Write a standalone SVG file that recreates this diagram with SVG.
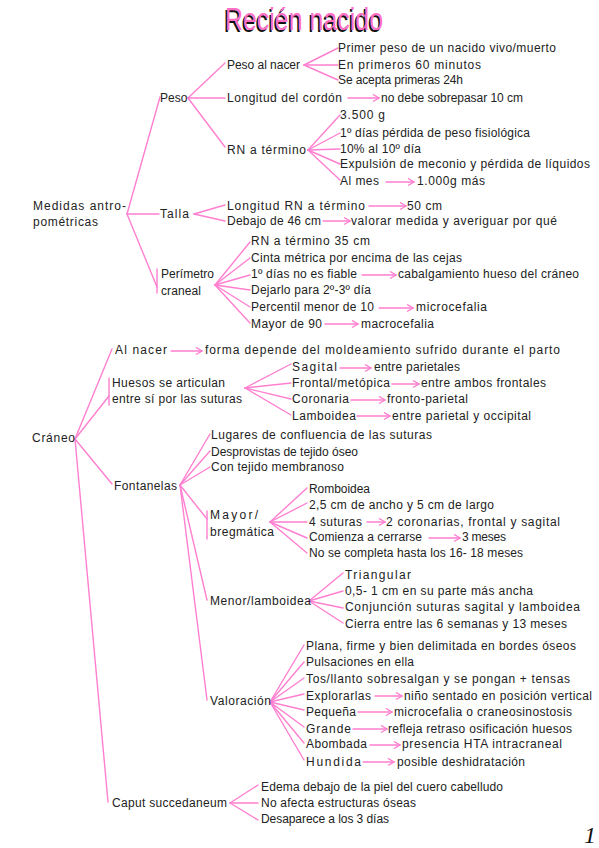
<svg xmlns="http://www.w3.org/2000/svg" width="599" height="848" viewBox="0 0 599 848">
<style>
  .t { font-family: "Liberation Sans", "DejaVu Sans", sans-serif; font-size: 12px; fill: #222; }
  .c line { stroke: #ff7fd0; stroke-width: 1.4; fill: none; stroke-linecap: round; }
  .c .ar { marker-end: url(#ah); }
  .title { font-family: "Liberation Sans", "DejaVu Sans", sans-serif; font-size: 31px; }
  .num { font-family: "Liberation Serif", serif; font-size: 24px; fill: #111; }
</style>
<defs>
  <marker id="ah" markerUnits="userSpaceOnUse" markerWidth="10" markerHeight="10" refX="7" refY="4" orient="auto">
    <path d="M1,0.5 L7,4 L1,7.5" stroke="#ff7fd0" stroke-width="1.4" fill="none"/>
  </marker>
</defs>
<rect width="599" height="848" fill="#fff"/>

<g id="title">
  <text class="title" x="223.5" y="31.5" fill="#111" textLength="158" lengthAdjust="spacingAndGlyphs">Recién nacido</text>
  <text class="title" x="225" y="30" fill="#ff6ec7" textLength="158" lengthAdjust="spacingAndGlyphs">Recién nacido</text>
</g>

<g class="c" id="connectors">
  <!-- Medidas -->
  <line x1="127" y1="214" x2="160" y2="97"/>
  <line x1="127" y1="214" x2="159" y2="214"/>
  <line x1="127" y1="214" x2="157" y2="287"/>
  <line x1="157" y1="269" x2="157" y2="293"/>
  <!-- Peso -->
  <line x1="188" y1="98" x2="225" y2="63"/>
  <line x1="188" y1="98" x2="225" y2="98"/>
  <line x1="188" y1="98" x2="225" y2="147"/>
  <line x1="304" y1="65" x2="338" y2="48"/>
  <line x1="304" y1="65" x2="338" y2="65"/>
  <line x1="304" y1="65" x2="338" y2="80"/>
  <line class="ar" x1="348" y1="98" x2="379" y2="98"/>
  <line x1="308" y1="150" x2="340" y2="115"/>
  <line x1="308" y1="150" x2="340" y2="133"/>
  <line x1="308" y1="150" x2="340" y2="149"/>
  <line x1="308" y1="150" x2="340" y2="164"/>
  <line x1="308" y1="150" x2="340" y2="180"/>
  <line class="ar" x1="386" y1="182" x2="414" y2="182"/>
  <!-- Talla -->
  <line x1="194" y1="214" x2="225" y2="205"/>
  <line x1="194" y1="214" x2="225" y2="221"/>
  <line class="ar" x1="369" y1="206" x2="406" y2="206"/>
  <line class="ar" x1="323" y1="221" x2="350" y2="221"/>
  <!-- Perimetro -->
  <line x1="215" y1="285" x2="250" y2="242"/>
  <line x1="215" y1="285" x2="250" y2="258"/>
  <line x1="215" y1="285" x2="250" y2="275"/>
  <line x1="215" y1="285" x2="250" y2="290"/>
  <line x1="215" y1="285" x2="250" y2="307"/>
  <line x1="215" y1="285" x2="250" y2="323"/>
  <line class="ar" x1="362" y1="275" x2="396" y2="275"/>
  <line class="ar" x1="379" y1="308" x2="413" y2="308"/>
  <line class="ar" x1="325" y1="324" x2="358" y2="324"/>
  <!-- Craneo -->
  <line x1="75" y1="439" x2="112" y2="349"/>
  <line x1="75" y1="439" x2="109" y2="396"/>
  <line x1="109" y1="378" x2="109" y2="405"/>
  <line x1="75" y1="439" x2="112" y2="484"/>
  <line x1="75" y1="439" x2="108" y2="802"/>
  <line class="ar" x1="171" y1="351" x2="202" y2="351"/>
  <!-- Huesos -->
  <line x1="245" y1="388" x2="291" y2="364"/>
  <line x1="245" y1="388" x2="291" y2="383"/>
  <line x1="245" y1="388" x2="291" y2="399"/>
  <line x1="245" y1="388" x2="291" y2="415"/>
  <line class="ar" x1="340" y1="368" x2="371" y2="368"/>
  <line class="ar" x1="392" y1="384" x2="419" y2="384"/>
  <line class="ar" x1="351" y1="400" x2="385" y2="400"/>
  <line class="ar" x1="357" y1="416" x2="390" y2="416"/>
  <!-- Fontanelas -->
  <line x1="180" y1="485" x2="210" y2="434"/>
  <line x1="180" y1="485" x2="210" y2="451"/>
  <line x1="180" y1="485" x2="210" y2="467"/>
  <line x1="180" y1="485" x2="207" y2="519"/>
  <line x1="207" y1="511" x2="207" y2="539"/>
  <line x1="180" y1="485" x2="207" y2="600"/>
  <line x1="180" y1="485" x2="207" y2="700"/>
  <!-- Mayor -->
  <line x1="270" y1="522" x2="307" y2="488"/>
  <line x1="270" y1="522" x2="307" y2="503"/>
  <line x1="270" y1="522" x2="307" y2="522"/>
  <line x1="270" y1="522" x2="307" y2="538"/>
  <line x1="270" y1="522" x2="307" y2="553"/>
  <line class="ar" x1="367" y1="522" x2="385" y2="522"/>
  <line class="ar" x1="429" y1="538" x2="460" y2="538"/>
  <!-- Menor -->
  <line x1="309" y1="601" x2="343" y2="573"/>
  <line x1="309" y1="601" x2="343" y2="591"/>
  <line x1="309" y1="601" x2="343" y2="608"/>
  <line x1="309" y1="601" x2="343" y2="623"/>
  <!-- Valoracion -->
  <line x1="270" y1="702" x2="304" y2="645"/>
  <line x1="270" y1="702" x2="304" y2="662"/>
  <line x1="270" y1="702" x2="304" y2="678"/>
  <line x1="270" y1="702" x2="304" y2="694"/>
  <line x1="270" y1="702" x2="304" y2="710"/>
  <line x1="270" y1="702" x2="304" y2="727"/>
  <line x1="270" y1="702" x2="304" y2="743"/>
  <line x1="270" y1="702" x2="304" y2="760"/>
  <line class="ar" x1="375" y1="696" x2="402" y2="696"/>
  <line class="ar" x1="358" y1="712" x2="392" y2="712"/>
  <line class="ar" x1="353" y1="729" x2="387" y2="729"/>
  <line class="ar" x1="370" y1="745" x2="400" y2="745"/>
  <line class="ar" x1="363" y1="762" x2="394" y2="762"/>
  <!-- Caput -->
  <line x1="230" y1="803" x2="258" y2="785"/>
  <line x1="230" y1="803" x2="258" y2="803"/>
  <line x1="230" y1="803" x2="258" y2="820"/>
</g>

<g id="medidas"><text class="t" x="33" y="210" textLength="93" lengthAdjust="spacing">Medidas antro-</text><text class="t" x="33" y="226" textLength="65" lengthAdjust="spacing">pométricas</text></g>
<g id="peso"><text class="t" x="160" y="102">Peso</text></g>
<g id="peso-al-nacer"><text class="t" x="227" y="69" textLength="73" lengthAdjust="spacing">Peso al nacer</text></g>
<g id="pan-1"><text class="t" x="338" y="52" textLength="218" lengthAdjust="spacing">Primer peso de un nacido vivo/muerto</text></g>
<g id="pan-2"><text class="t" x="338" y="69" textLength="143" lengthAdjust="spacing">En primeros 60 minutos</text></g>
<g id="pan-3"><text class="t" x="338" y="84" textLength="125" lengthAdjust="spacing">Se acepta primeras 24h</text></g>
<g id="longitud-cordon"><text class="t" x="227" y="102" textLength="115" lengthAdjust="spacing">Longitud del cordón</text></g>
<g id="cordon-val"><text class="t" x="381" y="102" textLength="142" lengthAdjust="spacing">no debe sobrepasar 10 cm</text></g>
<g id="rn-termino"><text class="t" x="227" y="154" textLength="79" lengthAdjust="spacing">RN a término</text></g>
<g id="rn-1"><text class="t" x="340" y="119" textLength="45" lengthAdjust="spacing">3.500 g</text></g>
<g id="rn-2"><text class="t" x="340" y="137" textLength="190" lengthAdjust="spacing">1º días pérdida de peso fisiológica</text></g>
<g id="rn-3"><text class="t" x="340" y="153" textLength="81" lengthAdjust="spacing">10% al 10º día</text></g>
<g id="rn-4"><text class="t" x="340" y="168" textLength="250" lengthAdjust="spacing">Expulsión de meconio y pérdida de líquidos</text></g>
<g id="rn-5"><text class="t" x="340" y="185" textLength="39" lengthAdjust="spacing">Al mes</text></g>
<g id="rn-5b"><text class="t" x="417" y="185" textLength="68" lengthAdjust="spacing">1.000g más</text></g>
<g id="talla"><text class="t" x="160" y="218" textLength="29" lengthAdjust="spacing">Talla</text></g>
<g id="talla-1"><text class="t" x="227" y="210" textLength="138" lengthAdjust="spacing">Longitud RN a término</text></g>
<g id="talla-1b"><text class="t" x="407" y="210" textLength="35" lengthAdjust="spacing">50 cm</text></g>
<g id="talla-2"><text class="t" x="227" y="225" textLength="94" lengthAdjust="spacing">Debajo de 46 cm</text></g>
<g id="talla-2b"><text class="t" x="351" y="225" textLength="206" lengthAdjust="spacing">valorar medida y averiguar por qué</text></g>
<g id="perimetro"><text class="t" x="161" y="278" textLength="53" lengthAdjust="spacing">Perímetro</text><text class="t" x="161" y="295" textLength="40" lengthAdjust="spacing">craneal</text></g>
<g id="per-1"><text class="t" x="251" y="245" textLength="119" lengthAdjust="spacing">RN a término 35 cm</text></g>
<g id="per-2"><text class="t" x="251" y="262" textLength="211" lengthAdjust="spacing">Cinta métrica por encima de las cejas</text></g>
<g id="per-3"><text class="t" x="251" y="278" textLength="106" lengthAdjust="spacing">1º días no es fiable</text></g>
<g id="per-3b"><text class="t" x="398" y="278" textLength="181" lengthAdjust="spacing">cabalgamiento hueso del cráneo</text></g>
<g id="per-4"><text class="t" x="251" y="294" textLength="120" lengthAdjust="spacing">Dejarlo para 2º-3º día</text></g>
<g id="per-5"><text class="t" x="251" y="311" textLength="123" lengthAdjust="spacing">Percentil menor de 10</text></g>
<g id="per-5b"><text class="t" x="416" y="311" textLength="71" lengthAdjust="spacing">microcefalia</text></g>
<g id="per-6"><text class="t" x="251" y="328" textLength="71" lengthAdjust="spacing">Mayor de 90</text></g>
<g id="per-6b"><text class="t" x="361" y="328" textLength="73" lengthAdjust="spacing">macrocefalia</text></g>

<g id="craneo"><text class="t" x="32" y="442" textLength="43" lengthAdjust="spacing">Cráneo</text></g>
<g id="al-nacer"><text class="t" x="115" y="354" textLength="52" lengthAdjust="spacing">Al nacer</text></g>
<g id="al-nacer-b"><text class="t" x="205" y="354" textLength="355" lengthAdjust="spacing">forma depende del moldeamiento sufrido durante el parto</text></g>
<g id="huesos"><text class="t" x="112" y="387" textLength="113" lengthAdjust="spacing">Huesos se articulan</text><text class="t" x="112" y="403" textLength="130" lengthAdjust="spacing">entre sí por las suturas</text></g>
<g id="sut-1"><text class="t" x="292" y="371" textLength="45" lengthAdjust="spacing">Sagital</text></g>
<g id="sut-1b"><text class="t" x="374" y="371" textLength="86" lengthAdjust="spacing">entre parietales</text></g>
<g id="sut-2"><text class="t" x="292" y="387" textLength="98" lengthAdjust="spacing">Frontal/metópica</text></g>
<g id="sut-2b"><text class="t" x="421" y="387" textLength="125" lengthAdjust="spacing">entre ambos frontales</text></g>
<g id="sut-3"><text class="t" x="292" y="403" textLength="57" lengthAdjust="spacing">Coronaria</text></g>
<g id="sut-3b"><text class="t" x="387" y="403" textLength="81" lengthAdjust="spacing">fronto-parietal</text></g>
<g id="sut-4"><text class="t" x="292" y="420" textLength="64" lengthAdjust="spacing">Lamboidea</text></g>
<g id="sut-4b"><text class="t" x="392" y="420" textLength="139" lengthAdjust="spacing">entre parietal y occipital</text></g>
<g id="fontanelas"><text class="t" x="114" y="490" textLength="63" lengthAdjust="spacing">Fontanelas</text></g>
<g id="fon-1"><text class="t" x="211" y="439" textLength="221" lengthAdjust="spacing">Lugares de confluencia de las suturas</text></g>
<g id="fon-2"><text class="t" x="211" y="456" textLength="147" lengthAdjust="spacing">Desprovistas de tejido óseo</text></g>
<g id="fon-3"><text class="t" x="211" y="471" textLength="133" lengthAdjust="spacing">Con tejido membranoso</text></g>
<g id="mayor"><text class="t" x="210" y="519" textLength="48" lengthAdjust="spacing">Mayor/</text><text class="t" x="210" y="536" textLength="64" lengthAdjust="spacing">bregmática</text></g>
<g id="may-1"><text class="t" x="309" y="493" textLength="61" lengthAdjust="spacing">Romboidea</text></g>
<g id="may-2"><text class="t" x="309" y="509" textLength="185" lengthAdjust="spacing">2,5 cm de ancho y 5 cm de largo</text></g>
<g id="may-3"><text class="t" x="309" y="526" textLength="53" lengthAdjust="spacing">4 suturas</text></g>
<g id="may-3b"><text class="t" x="386" y="526" textLength="174" lengthAdjust="spacing">2 coronarias, frontal y sagital</text></g>
<g id="may-4"><text class="t" x="309" y="541" textLength="113" lengthAdjust="spacing">Comienza a cerrarse</text></g>
<g id="may-4b"><text class="t" x="462" y="541" textLength="44" lengthAdjust="spacing">3 meses</text></g>
<g id="may-5"><text class="t" x="309" y="557" textLength="214" lengthAdjust="spacing">No se completa hasta los 16- 18 meses</text></g>
<g id="menor"><text class="t" x="210" y="605" textLength="101" lengthAdjust="spacing">Menor/lamboidea</text></g>
<g id="men-1"><text class="t" x="345" y="579" textLength="66" lengthAdjust="spacing">Triangular</text></g>
<g id="men-2"><text class="t" x="345" y="595" textLength="188" lengthAdjust="spacing">0,5- 1 cm en su parte más ancha</text></g>
<g id="men-3"><text class="t" x="345" y="611" textLength="235" lengthAdjust="spacing">Conjunción suturas sagital y lamboidea</text></g>
<g id="men-4"><text class="t" x="345" y="628" textLength="222" lengthAdjust="spacing">Cierra entre las 6 semanas y 13 meses</text></g>
<g id="valoracion"><text class="t" x="210" y="705" textLength="61" lengthAdjust="spacing">Valoración</text></g>
<g id="val-1"><text class="t" x="306" y="650" textLength="270" lengthAdjust="spacing">Plana, firme y bien delimitada en bordes óseos</text></g>
<g id="val-2"><text class="t" x="306" y="666" textLength="108" lengthAdjust="spacing">Pulsaciones en ella</text></g>
<g id="val-3"><text class="t" x="306" y="683" textLength="264" lengthAdjust="spacing">Tos/llanto sobresalgan y se pongan + tensas</text></g>
<g id="val-4"><text class="t" x="306" y="700" textLength="65" lengthAdjust="spacing">Explorarlas</text></g>
<g id="val-4b"><text class="t" x="404" y="700" textLength="188" lengthAdjust="spacing">niño sentado en posición vertical</text></g>
<g id="val-5"><text class="t" x="306" y="716" textLength="50" lengthAdjust="spacing">Pequeña</text></g>
<g id="val-5b"><text class="t" x="394" y="716" textLength="178" lengthAdjust="spacing">microcefalia o craneosinostosis</text></g>
<g id="val-6"><text class="t" x="306" y="733" textLength="45" lengthAdjust="spacing">Grande</text></g>
<g id="val-6b"><text class="t" x="388" y="733" textLength="184" lengthAdjust="spacing">refleja retraso osificación huesos</text></g>
<g id="val-7"><text class="t" x="306" y="748" textLength="61" lengthAdjust="spacing">Abombada</text></g>
<g id="val-7b"><text class="t" x="402" y="748" textLength="160" lengthAdjust="spacing">presencia HTA intracraneal</text></g>
<g id="val-8"><text class="t" x="306" y="766" textLength="55" lengthAdjust="spacing">Hundida</text></g>
<g id="val-8b"><text class="t" x="397" y="766" textLength="128" lengthAdjust="spacing">posible deshidratación</text></g>
<g id="caput"><text class="t" x="112" y="807" textLength="115" lengthAdjust="spacing">Caput succedaneum</text></g>
<g id="cap-1"><text class="t" x="261" y="791" textLength="242" lengthAdjust="spacing">Edema debajo de la piel del cuero cabelludo</text></g>
<g id="cap-2"><text class="t" x="261" y="807" textLength="155" lengthAdjust="spacing">No afecta estructuras óseas</text></g>
<g id="cap-3"><text class="t" x="261" y="823" textLength="128" lengthAdjust="spacing">Desaparece a los 3 días</text></g>

<g id="page-number"><text class="num" x="584" y="843" font-style="italic">1</text></g>
</svg>
